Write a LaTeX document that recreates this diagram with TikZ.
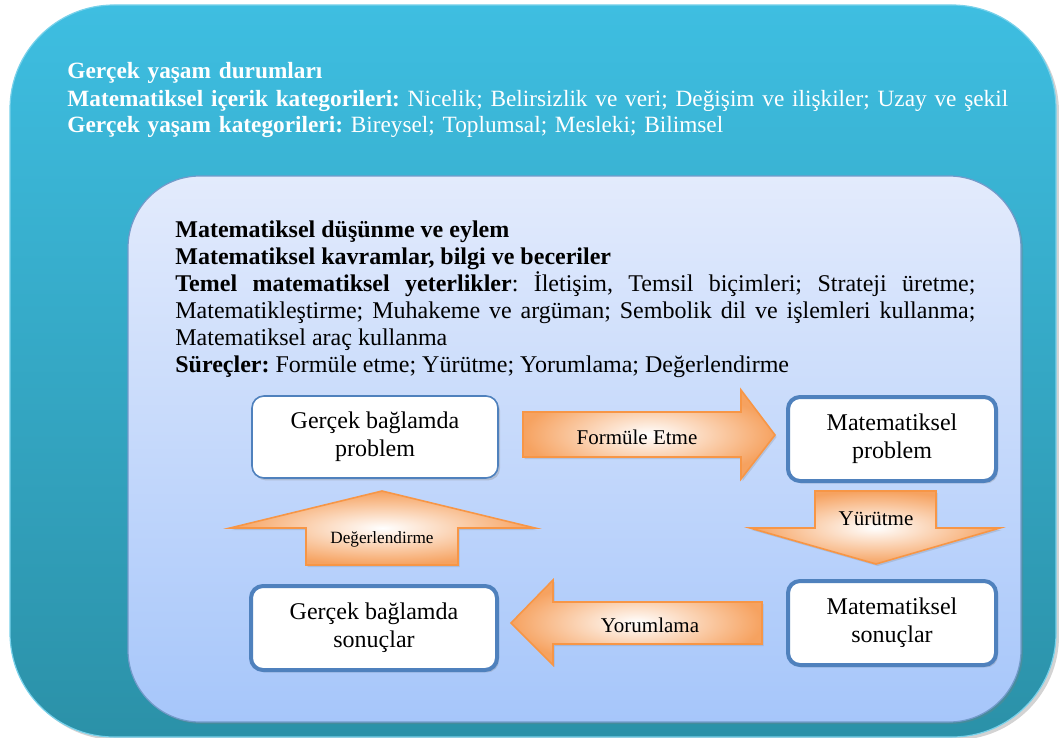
\documentclass[tikz,border=0pt]{standalone}
\usepackage{fontspec}
\setmainfont{Liberation Serif}
\usetikzlibrary{shadows}

\definecolor{outertop}{RGB}{62,190,225}
\definecolor{outermid}{RGB}{58,184,219}
\definecolor{outerbot}{RGB}{43,145,168}
\definecolor{innertop}{RGB}{227,235,252}
\definecolor{innerbot}{RGB}{166,198,250}
\definecolor{boxblue}{RGB}{79,129,189}
\definecolor{arrline}{RGB}{247,150,70}
\definecolor{arrfill}{RGB}{246,162,96}

\begin{document}
\frenchspacing
\begin{tikzpicture}[x=0.5pt, y=-0.5pt,
  outerbox/.style={top color=outertop, middle color=outermid, bottom color=outerbot,
    draw=outertop!70!white, line width=0.6pt, rounded corners=52pt,
    drop shadow={shadow xshift=1.5pt, shadow yshift=-1.5pt, opacity=0.35}},
  innerbox/.style={top color=innertop, bottom color=innerbot, draw=boxblue!80,
    line width=0.6pt, rounded corners=36pt,
    drop shadow={shadow xshift=1pt, shadow yshift=-1pt, opacity=0.3}},
  stepbox/.style={rectangle, rounded corners=6pt, fill=white, draw=boxblue, line width=2pt,
    align=center, minimum width=104pt, minimum height=42pt, inner sep=2pt,
    font=\fontsize{12}{14}\selectfont,
    drop shadow={shadow xshift=1pt, shadow yshift=-1.2pt, opacity=0.3}},
  blockarrow/.style={draw=arrline, line width=0.8pt, inner color=white, outer color=arrfill,
    drop shadow={shadow xshift=0.8pt, shadow yshift=-1pt, opacity=0.25}},
  arrlabel/.style={inner sep=0pt, font=\fontsize{10.5}{12}\selectfont},
  infotext/.style={anchor=base west, inner sep=0pt, font=\fontsize{12}{13.5}\selectfont}
]
\useasboundingbox (0,0) rectangle (1059,738);
\clip (0,0) rectangle (1059,738);

\draw[outerbox] (10,5) rectangle (1056,737);
\node[infotext, text=white, text width=500pt, align=left, font=\fontsize{11.65}{13.5}\selectfont] (situ) at (67,79)
  {\textbf{Gerçek yaşam durumları}\\
   \textbf{Matematiksel içerik kategorileri:} Nicelik; Belirsizlik ve veri; Değişim ve ilişkiler; Uzay ve şekil\\
   \textbf{Gerçek yaşam kategorileri:} Bireysel; Toplumsal; Mesleki; Bilimsel};

\draw[innerbox] (128,176) rectangle (1021,722);
\node[infotext, text width=400pt, align=justify] (think) at (175,237)
  {\hyphenpenalty=10000
   \textbf{Matematiksel düşünme ve eylem}\\
   \textbf{Matematiksel kavramlar, bilgi ve beceriler}\\
   \textbf{Temel matematiksel yeterlikler}: İletişim, Temsil biçimleri; Strateji üretme;\linebreak
   Matematikleştirme; Muhakeme ve argüman; Sembolik dil ve işlemleri kullanma;\linebreak
   Matematiksel araç kullanma\\
   \textbf{Süreçler:} Formüle etme; Yürütme; Yorumlama; Değerlendirme};

\node[stepbox, line width=0.8pt, minimum width=123pt, minimum height=41pt] (gbp) at (375,437) {Gerçek bağlamda\\problem};
\node[stepbox] (mp) at (892,439) {Matematiksel\\problem};
\node[stepbox] (ms) at (892,623) {Matematiksel\\sonuçlar};
\node[stepbox, minimum width=123pt] (gbs) at (374,628) {Gerçek bağlamda\\sonuçlar};

\draw[blockarrow] (523,412) -- (741,412) -- (741,390) -- (775,435) -- (741,479) -- (741,457) -- (523,457) -- cycle;
\node[arrlabel] (formul) at (637,437) {Formüle Etme};

\draw[blockarrow] (815,491) -- (936,491) -- (936,528) -- (1000,528) -- (876,564) -- (750,528) -- (815,528) -- cycle;
\node[arrlabel] (yurut) at (876,519) {Yürütme};

\draw[blockarrow] (511,623) -- (553,580) -- (553,602) -- (762,602) -- (762,644) -- (553,644) -- (553,665) -- cycle;
\node[arrlabel] (yorum) at (650,625) {Yorumlama};

\draw[blockarrow] (382,491) -- (535,528) -- (458,528) -- (458,565) -- (306,565) -- (306,528) -- (230,528) -- cycle;
\node[arrlabel, font=\fontsize{8.6}{10}\selectfont] (degerl) at (382,539) {Değerlendirme};
\end{tikzpicture}
\end{document}
